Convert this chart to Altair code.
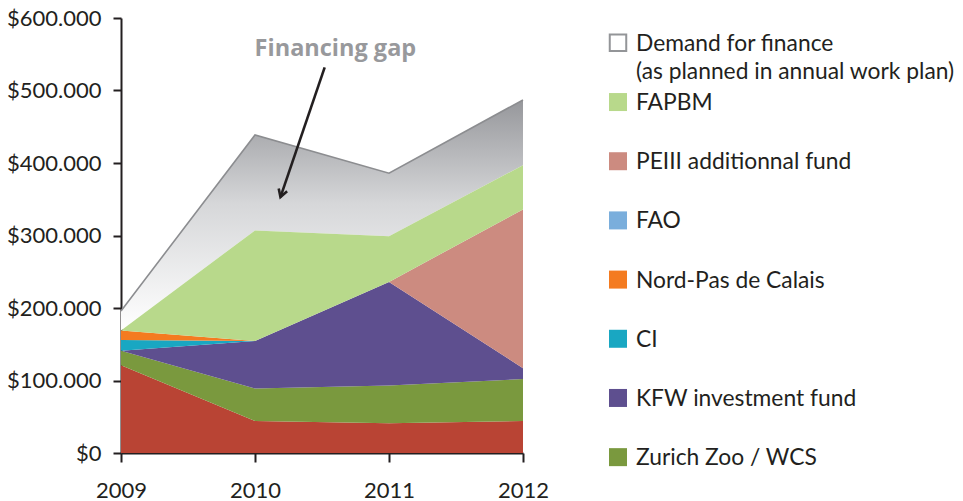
import altair as alt
import pandas as pd

FONT = "Lato"
INK = "#231f20"

# ---------------- data (values in thousands of $) ----------------
years = [2009, 2010, 2011, 2012]

series_names = [
    "Other sources",
    "Zurich Zoo / WCS",
    "KFW investment fund",
    "CI",
    "Nord-Pas de Calais",
    "FAO",
    "PEIII additionnal fund",
    "FAPBM",
]
series_colors = [
    "#b94434",
    "#7a993e",
    "#5e4f8f",
    "#19a7c2",
    "#f47b20",
    "#7aaedc",
    "#cc8b80",
    "#b8d98b",
]

other_sources = [121, 44, 41, 44]
zurich_zoo = [20, 45, 52, 58]
kfw_fund = [0, 65.5, 143, 15]
ci_fund = [15, 0, 0, 0]
nord_pas_de_calais = [13, 0, 0, 0]
fao_fund = [0, 0, 0, 0]
peiii_fund = [0, 0, 0, 219]
fapbm_fund = [0, 152.5, 63, 61]

demand_for_finance = [196, 438.6, 386, 487]

legend_labels = [
    "Demand for finance",
    "FAPBM",
    "PEIII additionnal fund",
    "FAO",
    "Nord-Pas de Calais",
    "CI",
    "KFW investment fund",
    "Zurich Zoo / WCS",
]
legend_sub = "(as planned in annual work plan)"

gap_label = "Financing gap"
y_ticks = [0, 100, 200, 300, 400, 500, 600]

# ---------------- tables ----------------
series_values = [other_sources, zurich_zoo, kfw_fund, ci_fund,
                 nord_pas_de_calais, fao_fund, peiii_fund, fapbm_fund]
rows = []
for i, (name, vals) in enumerate(zip(series_names, series_values)):
    for yr, v in zip(years, vals):
        rows.append({"year": yr, "value": v, "series": name, "order": i})
stack_df = pd.DataFrame(rows)

funded_total = [sum(v[k] for v in series_values) for k in range(len(years))]
gap_df = pd.DataFrame({"year": years, "demand": demand_for_finance, "funded": funded_total})

arrow_df = pd.DataFrame({"x": [2010.52], "y": [532], "x2": [2010.19], "y2": [353]})

leg_rows = []
for i, lab in enumerate(legend_labels):
    leg_rows.append({"idx": i, "label": lab, "series": lab, "demand": lab not in series_names})
leg_df = pd.DataFrame(leg_rows)

# ---------------- scales ----------------
xs = alt.Scale(domain=[2009, 2012], nice=False, zero=False)
ys = alt.Scale(domain=[0, 600], nice=False)
color_scale = alt.Scale(domain=series_names, range=series_colors)

x_axis = alt.Axis(
    values=years, format="d", title=None, grid=False,
    labelFont=FONT, labelFontSize=22, labelColor=INK, labelPadding=18,
    tickSize=9, tickWidth=2, tickColor=INK, domainWidth=2, domainColor=INK,
    labelFlush=False,
)
y_axis = alt.Axis(
    values=y_ticks, title=None, grid=False,
    labelExpr='datum.value == 0 ? "$0" : "$" + datum.value + ".000"',
    labelFont=FONT, labelFontSize=22, labelColor=INK, labelPadding=12,
    tickSize=8, tickWidth=2, tickColor=INK, domainWidth=2, domainColor=INK,
)

X = alt.X("year:Q", scale=xs, axis=x_axis)

gradient = alt.Gradient(
    gradient="linear",
    stops=[
        alt.GradientStop(color="#96979b", offset=0),
        alt.GradientStop(color="#d6d7d9", offset=0.45),
        alt.GradientStop(color="#ffffff", offset=1),
    ],
    x1=0, x2=0, y1=0, y2=1,
)

gap = alt.Chart(gap_df).mark_area(color=gradient).encode(
    x=X,
    y=alt.Y("demand:Q", scale=ys, axis=y_axis),
    y2="funded:Q",
)

stack = alt.Chart(stack_df).mark_area(opacity=1).encode(
    x=X,
    y=alt.Y("value:Q", stack="zero", scale=ys, axis=y_axis),
    color=alt.Color("series:N", scale=color_scale, legend=None),
    order=alt.Order("order:Q", sort="ascending"),
)

demand_line = alt.Chart(gap_df).mark_line(color="#8c8d90", strokeWidth=1.6).encode(
    x=X, y=alt.Y("demand:Q", scale=ys),
)

arrow_line = alt.Chart(arrow_df).mark_rule(color=INK, strokeWidth=2.6).encode(
    x=alt.X("x:Q", scale=xs), y=alt.Y("y:Q", scale=ys),
    x2="x2:Q", y2="y2:Q",
)
arrow_head = alt.Chart(arrow_df).mark_point(
    shape="M -0.55 -0.95 L 0 0 L 0.55 -0.95", filled=False,
    color=INK, strokeWidth=2.6, size=260, angle=18.7, opacity=1,
).encode(x=alt.X("x2:Q", scale=xs), y=alt.Y("y2:Q", scale=ys))

gap_text = alt.Chart(pd.DataFrame({"t": [gap_label]})).mark_text(
    font="Open Sans", fontSize=23.5, fontWeight="bold", color="#98999c",
).encode(x=alt.datum(2010.6), y=alt.datum(557), text="t:N")

main = alt.layer(gap, stack, demand_line, arrow_line, arrow_head, gap_text)

# ---------------- legend ----------------
LY = alt.Y("idx:Q", scale=alt.Scale(domain=[-0.42, 6.93], reverse=True, nice=False, zero=False), axis=None)

leg_sq = alt.Chart(leg_df).transform_filter("!datum.demand").mark_square(
    size=324, opacity=1, filled=True,
).encode(
    x=alt.value(497), y=LY,
    color=alt.Color("series:N", scale=color_scale, legend=None),
)
leg_demand_sq = alt.Chart(leg_df).transform_filter("datum.demand").mark_square(
    size=272, filled=False, fill="white", stroke="#939598", strokeWidth=2, opacity=1,
).encode(x=alt.value(497), y=LY)

leg_text = alt.Chart(leg_df).mark_text(
    align="left", baseline="middle", font=FONT, fontSize=22.8, color=INK, dy=1,
).encode(x=alt.value(515), y=LY, text="label:N")

leg_sub = alt.Chart(leg_df).transform_filter("datum.demand").mark_text(
    align="left", baseline="middle", font=FONT, fontSize=22.8, color=INK, dy=29,
).encode(x=alt.value(515), y=LY, text=alt.value(legend_sub))

legend = alt.layer(leg_sq, leg_demand_sq, leg_text, leg_sub)

chart = alt.layer(main, legend).resolve_scale(y="independent").properties(
    width=402, height=435,
    autosize=alt.AutoSizeParams(type="none"),
    padding={"left": 121, "top": 18, "right": 440, "bottom": 48},
).configure_view(stroke=None)

chart.save("out.html", embed_options={"renderer": "svg", "actions": False})
